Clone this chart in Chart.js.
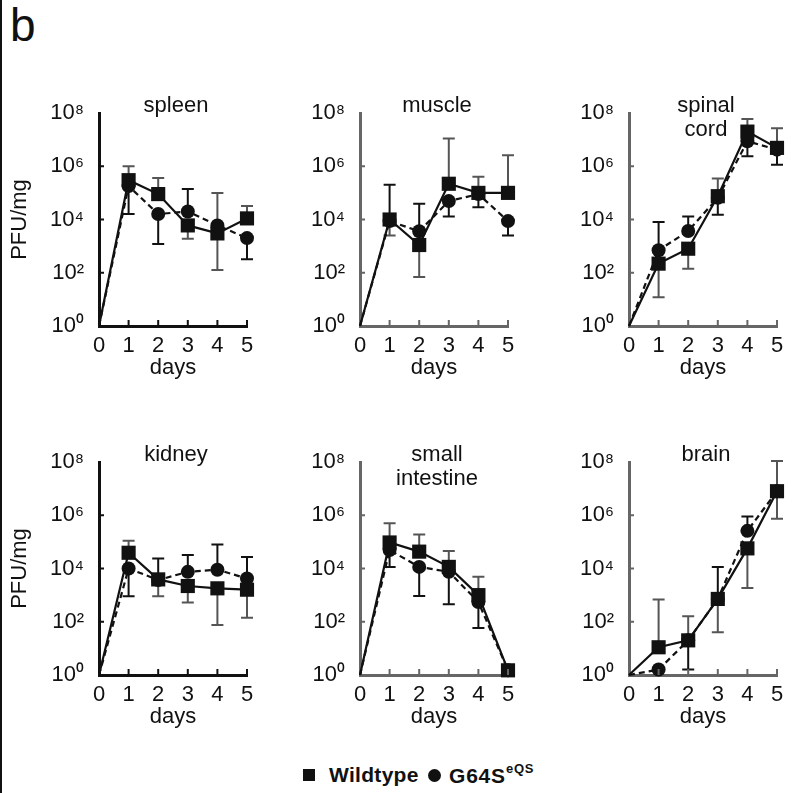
<!DOCTYPE html>
<html lang="en">
<head>
<meta charset="UTF-8" />
<title>PFU/mg by organ</title>
<script src="https://cdn.jsdelivr.net/npm/chart.js@4.4.0/dist/chart.umd.min.js"></script>
<style>
  body { margin: 0; width: 800px; height: 793px; position: relative; overflow: hidden; background: #fff;
         font-family: "Liberation Sans", Arial, sans-serif; color: #111; }
  canvas { position: absolute; }
  #edge { position: absolute; left: 0; top: 0; width: 2px; height: 793px; background: #111; }
  #tag { position: absolute; left: 10px; top: -2px; font-size: 46px; }
  .lg { position: absolute; font-weight: bold; font-size: 21px; top: 763px; }
  .lg sup { font-size: 13px; position: relative; top: -2px; }
</style>
</head>
<body>
<div id="edge"></div>
<div id="tag">b</div>
<canvas id="c0" width="269" height="298"></canvas>
<canvas id="c1" width="269" height="298"></canvas>
<canvas id="c2" width="269" height="298"></canvas>
<canvas id="c3" width="269" height="298"></canvas>
<canvas id="c4" width="269" height="298"></canvas>
<canvas id="c5" width="269" height="298"></canvas>
<div class="lg" style="left:303px;top:769px;width:12px;height:12px;background:#111"></div>
<div class="lg" style="left:329px;letter-spacing:0.3px">Wildtype</div>
<div class="lg" style="left:428px;top:769px;width:13px;height:13px;border-radius:50%;background:#111"></div>
<div class="lg" style="left:449px;letter-spacing:0.8px">G64S<sup>eQS</sup></div>
<script>
  const days = [0, 1, 2, 3, 4, 5];
  const organs = [["spleen"], ["muscle"], ["spinal", "cord"], ["kidney"], ["small", "intestine"], ["brain"]];
  const exponents = [0, 2, 4, 6, 8];

  // mean PFU/mg, one row per organ
  const wildtype = [
    [1, 3e5, 9e4, 6e3, 3e3, 1.1e4],
    [1, 1e4, 1.1e3, 2.2e5, 1e5, 1e5],
    [1, 2.2e2, 8e2, 7.5e4, 2e7, 4.9e6],
    [1, 3.9e4, 3.9e3, 2.2e3, 1.8e3, 1.6e3],
    [1, 9.5e4, 4.3e4, 1.15e4, 1e3, 1.5],
    [1, 11, 20, 7.2e2, 5.7e4, 8e6],
  ];
  const g64s = [
    [1, 1.8e5, 1.6e4, 2e4, 6e3, 2e3],
    [1, 8.7e3, 3.6e3, 4.9e4, 9e4, 8.7e3],
    [1, 7e2, 3.7e3, 6.5e4, 8.7e6, 4.2e6],
    [1, 1e4, 3.7e3, 7.5e3, 9e3, 4.2e3],
    [1, 4.9e4, 1.15e4, 7.5e3, 5.5e2, 1.5],
    [1, 1.6, 20, 7.2e2, 2.6e5, 8e6],
  ];
  // error bar ends (null = no bar on that side)
  const wildtypeLow = [
    [null, null, null, 1.9e3, 1.26e2, null],
    [null, 2.5e3, 69, null, null, null],
    [null, 12, 140, null, null, null],
    [null, null, 9e2, 5.3e2, 75, 140],
    [null, null, null, null, null, null],
    [null, null, null, 40, 1.85e3, 7.4e5],
  ];
  const wildtypeHigh = [
    [null, 1e6, 3.6e5, null, 1e5, 3.2e4],
    [null, null, null, 1.1e7, 4e5, 2.6e6],
    [null, null, null, 3.5e5, 6e7, 2.7e7],
    [null, 1.1e5, null, null, null, null],
    [null, 5e5, 1.9e5, 4.5e4, 4.9e3, null],
    [null, 6.9e2, 160, null, null, 1.1e8],
  ];
  const g64sLow = [
    [null, 1.6e4, 1.2e3, null, null, 3.2e2],
    [null, null, null, 1.3e4, 2.9e4, 2.5e3],
    [null, null, null, 1.5e4, 2.4e6, 1.15e6],
    [null, 9e2, null, null, null, null],
    [null, 1.15e4, 9.3e2, 4.5e2, 58, null],
    [null, null, 1.6, null, null, null],
  ];
  const g64sHigh = [
    [null, null, null, 1.4e5, null, null],
    [null, 2e5, 3.9e4, null, null, null],
    [null, 8e3, 1.3e4, null, null, null],
    [null, null, 2.4e4, 3.2e4, 8e4, 2.7e4],
    [null, null, null, null, null, null],
    [null, null, null, 1.15e4, 9e5, null],
  ];

  const axisLeft = [99, 360, 629, 99, 360, 629];
  const axisTop = [113, 113, 113, 462, 462, 462];
  const axisColor = ["#111", "#666", "#666", "#111", "#666", "#666"];
  const sup = { 0: "\u2070", 2: "\u00b2", 4: "\u2074", 6: "\u2076", 8: "\u2078" };

  const errorBars = {
    id: "errorBars",
    beforeDatasetsDraw(chart) {
      const { ctx } = chart;
      const y = chart.scales.y;
      chart.data.datasets.forEach((ds, k) => {
        const meta = chart.getDatasetMeta(k);
        ctx.save();
        ctx.strokeStyle = ds.errColor;
        ctx.lineWidth = 2;
        meta.data.forEach((pt, j) => {
          const center = ds.data[j].y;
          [ds.errLow[j], ds.errHigh[j]].forEach((end) => {
            if (end == null) return;
            const y0 = y.getPixelForValue(center);
            const y1 = y.getPixelForValue(end);
            ctx.beginPath();
            ctx.moveTo(pt.x, y0);
            ctx.lineTo(pt.x, y1);
            ctx.moveTo(pt.x - 6, y1);
            ctx.lineTo(pt.x + 6, y1);
            ctx.stroke();
          });
        });
        ctx.restore();
      });
    },
  };

  const innerTicks = {
    id: "innerTicks",
    afterDraw(chart) {
      const { ctx, chartArea } = chart;
      const { x, y } = chart.scales;
      ctx.save();
      ctx.strokeStyle = chart.options.plugins.innerTicks.color;
      ctx.lineWidth = 2;
      ctx.beginPath();
      [1, 2, 3, 4, 5].forEach((d) => {
        const px = x.getPixelForValue(d);
        ctx.moveTo(px, chartArea.bottom);
        ctx.lineTo(px, chartArea.bottom - 6);
      });
      [2, 4, 6].forEach((e) => {
        const py = y.getPixelForValue(10 ** e);
        ctx.moveTo(chartArea.left, py);
        ctx.lineTo(chartArea.left + 5, py);
      });
      ctx.stroke();
      ctx.restore();
    },
  };

  const panelTitle = {
    id: "panelTitle",
    afterDraw(chart) {
      const { ctx, chartArea } = chart;
      const lines = chart.options.plugins.panelTitle.lines;
      ctx.save();
      ctx.fillStyle = "#111";
      ctx.font = '22px "Liberation Sans", Arial, sans-serif';
      ctx.textAlign = "center";
      ctx.textBaseline = "middle";
      lines.forEach((t, n) => {
        ctx.fillText(t, (chartArea.left + chartArea.right) / 2 + 3, chartArea.top - 7 + n * 24);
      });
      ctx.restore();
    },
  };

  const font = { family: '"Liberation Sans", Arial, sans-serif', size: 22 };

  organs.forEach((lines, i) => {
    const canvas = document.getElementById("c" + i);
    canvas.style.left = axisLeft[i] - 99 + "px";
    canvas.style.top = axisTop[i] - 30 + "px";
    new Chart(canvas, {
      type: "line",
      data: {
        datasets: [
          {
            label: "Wildtype",
            data: days.map((d, j) => ({ x: d, y: wildtype[i][j] })),
            borderColor: "#111",
            borderWidth: 2.2,
            pointStyle: "rect",
            pointRadius: days.map((d) => (d === 0 ? 0 : 10)),
            pointBackgroundColor: "#111",
            pointBorderWidth: 0,
            clip: false,
            errLow: wildtypeLow[i],
            errHigh: wildtypeHigh[i],
            errColor: "#555",
          },
          {
            label: "G64S",
            data: days.map((d, j) => ({ x: d, y: g64s[i][j] })),
            borderColor: "#111",
            borderWidth: 2.2,
            borderDash: [6, 4],
            pointStyle: "circle",
            pointRadius: days.map((d) => (d === 0 ? 0 : 7)),
            pointBackgroundColor: "#111",
            pointBorderWidth: 0,
            clip: false,
            errLow: g64sLow[i],
            errHigh: g64sHigh[i],
            errColor: "#111",
          },
        ],
      },
      options: {
        responsive: false,
        animation: false,
        layout: { padding: { top: 30, right: 22, left: 0, bottom: 0 } },
        plugins: {
          legend: { display: false },
          tooltip: { enabled: false },
          innerTicks: { color: axisColor[i] },
          panelTitle: { lines: lines },
        },
        scales: {
          x: {
            type: "linear",
            min: 0,
            max: 5,
            ticks: { stepSize: 1, autoSkip: false, maxRotation: 0, padding: 7, color: "#111", font: font },
            grid: { display: false, drawTicks: false },
            border: { display: true, color: axisColor[i], width: 3 },
            title: { display: true, text: "days", color: "#111", font: font, padding: { top: 0, bottom: 0 } },
            afterFit(s) { s.height = 55; },
          },
          y: {
            type: "logarithmic",
            min: 1,
            max: 1e8,
            afterBuildTicks(s) { s.ticks = exponents.map((e) => ({ value: 10 ** e })); },
            ticks: {
              padding: 15,
              color: "#111",
              font: font,
              callback: (v) => "10" + sup[Math.round(Math.log10(v))],
            },
            grid: { display: false, drawTicks: false },
            border: { display: true, color: axisColor[i], width: 3 },
            title: { display: i % 3 === 0, text: "PFU/mg", color: "#111", font: font, padding: { top: 7 } },
            afterFit(s) { s.width = 99; },
          },
        },
      },
      plugins: [errorBars, innerTicks, panelTitle],
    });
  });
</script>
</body>
</html>
